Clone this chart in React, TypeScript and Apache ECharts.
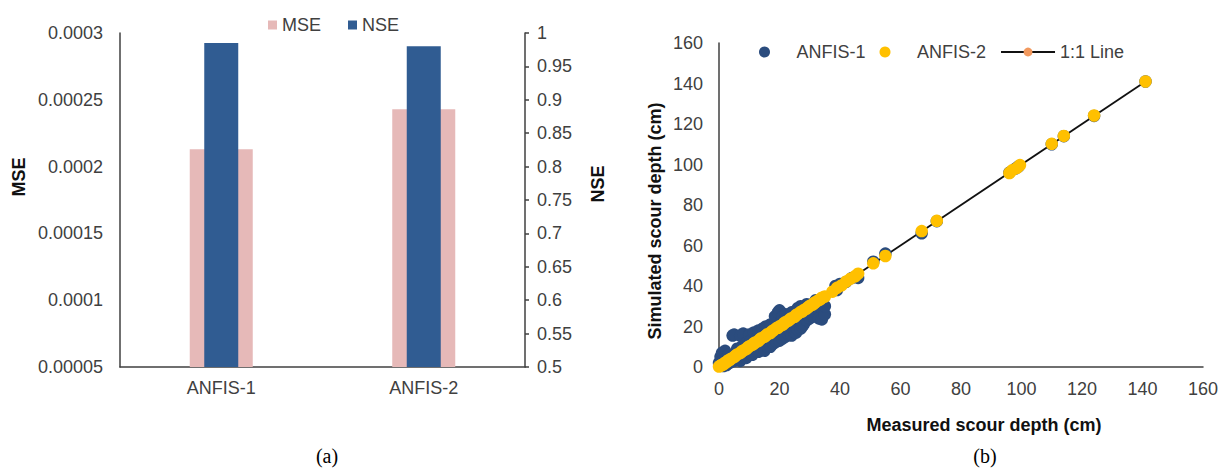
import React, { useEffect, useRef } from "react";
import * as echarts from "echarts";

// ---- Panel (a): bar chart ----
const models = ["ANFIS-1", "ANFIS-2"];
const mseValues = [0.000213, 0.000243];
const nseValues = [0.985, 0.98];

// ---- Panel (b): scatter, [measured, simulated] ----
const anfis1Points: number[][] = [
  [0, 2], [0.5, 5], [1, 7], [1, 3], [1.5, 0.5], [2, 4], [2, 8], [2.5, 1], [3, 6], [3.5, 2],
  [4, 5], [4.5, 15.5], [5, 16], [5, 3], [5.5, 7], [6, 9], [6.5, 4], [7, 3], [7, 15.5], [7.5, 10],
  [8, 16.5], [8.5, 5], [9, 12], [9, 4.5], [10, 16], [10, 7], [10.5, 13], [11, 6], [11.5, 17], [12, 9],
  [12.5, 14], [13, 7.5], [13, 18], [13.5, 11], [14, 8.5], [14.5, 19], [15, 13], [15, 8], [15.5, 20], [16, 10],
  [16.5, 16], [17, 10], [17, 21], [17.5, 14], [18, 11.5], [18.5, 25], [19, 16], [19, 12.5], [19.5, 27], [20, 28],
  [20, 13], [20.5, 22], [21, 25], [21, 14], [21.5, 18], [22, 26], [22, 15], [22.5, 20], [23, 24], [23, 16],
  [23.5, 17.5], [24, 27], [24, 15.5], [24.5, 21], [25, 26], [25, 17], [25.5, 17], [26, 29], [26, 18.5], [26.5, 23],
  [27, 30], [27, 19], [27.5, 20], [28, 28], [28, 21], [28.5, 26], [29, 31], [29, 23], [30, 29], [30, 24],
  [31, 31], [31, 25], [32, 33], [32, 27], [33, 30], [33, 24], [34, 29], [34, 23.5], [35, 26], [35, 30],
  [38.5, 40], [40, 41], [39, 38], [42, 42], [44, 44], [46, 44], [51, 52], [55, 56], [67, 66], [72, 72],
  [96, 96], [98, 98], [99, 99], [110, 110], [114, 114], [124, 124], [141, 141],
];

const anfis2Points: number[][] = [
  [0, 0.2], [0.5, 0.6], [1, 1.1], [1.5, 1.3], [2, 2.1], [2.5, 2.4], [3, 3.2], [3.5, 3.4], [4, 4.1], [5, 4.9],
  [5.5, 5.6], [6, 6.2], [7, 6.9], [7.5, 7.6], [8, 8.1], [9, 8.8], [9.5, 9.7], [10, 10.2], [11, 10.9], [11.5, 11.6],
  [12, 12.1], [13, 12.8], [13.5, 13.6], [14, 14.2], [15, 14.9], [15.5, 15.5], [16, 16.2], [17, 16.8], [17.5, 17.6], [18, 18.1],
  [19, 19.2], [19.5, 19.4], [20, 20.1], [21, 20.8], [21.5, 21.6], [22, 22.2], [23, 22.9], [23.5, 23.6], [24, 24.1], [25, 24.8],
  [25.5, 25.7], [26, 26.1], [27, 27.2], [27.5, 27.4], [28, 28.1], [29, 28.9], [29.5, 29.6], [30, 30.2], [31, 30.8], [31.5, 31.6],
  [32, 32.1], [33, 33.1], [33.5, 33.4], [34, 34.2], [35, 34.8],
  [37.5, 37.2], [39, 39.1], [40.5, 40.3], [42, 42.2], [43.5, 43.6], [45, 44.8], [46, 46.1], [51, 51.2], [55, 54.8],
  [67, 67.1], [72, 72.2], [96, 95.8], [97, 97.2], [98.5, 98.3], [99.5, 99.7], [110, 110.2], [114, 114.1], [124, 124.2], [141, 141],
];

const lineMeasured = [0, 141];
const lineSimulated = [0, 141];

const FONT = "'Liberation Sans', Arial, sans-serif";
const SERIF = "'Liberation Serif', 'Times New Roman', serif";
const TXT = "#404040";
const AXIS = "#404040";

export default function App() {
  const ref = useRef<HTMLDivElement>(null);
  useEffect(() => {
    document.body.style.margin = "0";
    const chart = echarts.init(ref.current!, undefined, { renderer: "svg" });
    const fmt = (d: number) => (v: number) => String(parseFloat(v.toFixed(d)));
    const label = { color: TXT, fontSize: 18, fontFamily: FONT };
    const title = { fontSize: 18, fontWeight: "bold", fontFamily: FONT, fill: "#111", align: "center", verticalAlign: "middle" };
    const caption = { fontSize: 20, fontFamily: SERIF, fill: "#000", align: "center", verticalAlign: "middle" };
    chart.setOption({
      animation: false,
      backgroundColor: "#ffffff",
      grid: [
        { left: 120, top: 33, width: 405, height: 334 },
        { left: 719, top: 43, width: 484, height: 324 },
      ],
      legend: [
        {
          data: ["MSE", "NSE"],
          left: 263,
          top: 11,
          icon: "rect",
          itemWidth: 9,
          itemHeight: 9,
          itemGap: 27,
          selectedMode: false,
          textStyle: { ...label },
        },
        {
          data: ["ANFIS-1", "ANFIS-2", "1:1 Line"],
          left: 754,
          top: 38,
          itemWidth: 54,
          itemHeight: 11,
          itemGap: 14,
          selectedMode: false,
          textStyle: { ...label },
        },
      ],
      xAxis: [
        {
          type: "category",
          gridIndex: 0,
          data: models,
          axisLine: { lineStyle: { color: AXIS, width: 1.5 } },
          axisTick: { show: false },
          axisLabel: { ...label, margin: 12 },
        },
        { type: "category", gridIndex: 0, data: models, show: false },
        {
          type: "value",
          gridIndex: 1,
          min: 0,
          max: 160,
          interval: 20,
          splitLine: { show: false },
          axisLine: { show: true, lineStyle: { color: AXIS, width: 1.5 } },
          axisTick: { show: false },
          axisLabel: { ...label, margin: 13 },
        },
      ],
      yAxis: [
        {
          type: "value",
          gridIndex: 0,
          position: "left",
          min: 0.00005,
          max: 0.0003,
          interval: 0.00005,
          splitLine: { show: false },
          axisLine: { show: true, lineStyle: { color: AXIS, width: 1.5 } },
          axisTick: { show: false },
          axisLabel: { ...label, margin: 17, formatter: fmt(5) },
        },
        {
          type: "value",
          gridIndex: 0,
          position: "right",
          min: 0.5,
          max: 1,
          interval: 0.05,
          splitLine: { show: false },
          axisLine: { show: true, lineStyle: { color: AXIS, width: 1.5 } },
          axisTick: { show: true, length: 4, lineStyle: { color: AXIS, width: 1.5 } },
          axisLabel: { ...label, margin: 12, formatter: fmt(2) },
        },
        {
          type: "value",
          gridIndex: 1,
          min: 0,
          max: 160,
          interval: 20,
          splitLine: { show: false },
          axisLine: { show: true, lineStyle: { color: AXIS, width: 1.5 } },
          axisTick: { show: false },
          axisLabel: { ...label, margin: 16 },
        },
      ],
      series: [
        {
          type: "bar",
          name: "MSE",
          xAxisIndex: 0,
          yAxisIndex: 0,
          data: mseValues,
          barWidth: 63,
          itemStyle: { color: "#E6B9B8" },
          z: 2,
        },
        {
          type: "bar",
          name: "NSE",
          xAxisIndex: 1,
          yAxisIndex: 1,
          data: nseValues,
          barWidth: 34,
          itemStyle: { color: "#305C92" },
          z: 3,
        },
        {
          type: "line",
          name: "1:1 Line",
          xAxisIndex: 2,
          yAxisIndex: 2,
          data: lineMeasured.map((m, i) => [m, lineSimulated[i]]),
          symbol: "circle",
          showSymbol: false,
          lineStyle: { color: "#111111", width: 1.8 },
          itemStyle: { color: "#F2995E" },
          z: 1,
        },
        {
          type: "scatter",
          name: "ANFIS-1",
          xAxisIndex: 2,
          yAxisIndex: 2,
          data: anfis1Points,
          symbolSize: 12.5,
          itemStyle: { color: "#2B4C7E", opacity: 1 },
          z: 2,
        },
        {
          type: "scatter",
          name: "ANFIS-2",
          xAxisIndex: 2,
          yAxisIndex: 2,
          data: anfis2Points,
          symbolSize: 12.5,
          itemStyle: { color: "#FFC000", opacity: 1 },
          z: 3,
        },
      ],
      graphic: [
        { type: "text", x: 19, y: 177, rotation: Math.PI / 2, style: { ...title, text: "MSE" } },
        { type: "text", x: 598, y: 184, rotation: Math.PI / 2, style: { ...title, text: "NSE" } },
        { type: "text", x: 655, y: 221, rotation: Math.PI / 2, style: { ...title, text: "Simulated scour depth (cm)" } },
        { type: "text", x: 984, y: 425, style: { ...title, text: "Measured scour depth (cm)" } },
        { type: "text", x: 327, y: 456, style: { ...caption, text: "(a)" } },
        { type: "text", x: 985, y: 456, style: { ...caption, text: "(b)" } },
      ],
    });
    return () => chart.dispose();
  }, []);
  return <div ref={ref} style={{ width: 1231, height: 470 }} />;
}
